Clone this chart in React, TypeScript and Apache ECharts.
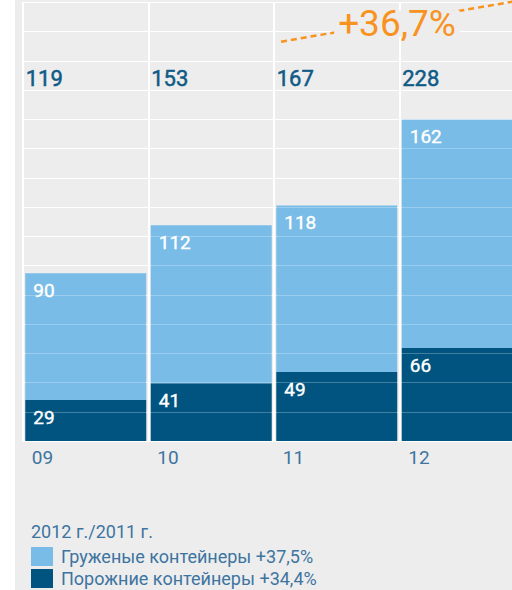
import React, { useEffect, useRef } from "react";
import * as echarts from "echarts";

const categories = ["09", "10", "11", "12"];
const loadedValues = [90, 112, 118, 162];
const emptyValues = [29, 41, 49, 66];
const seriesNames = ["Груженые контейнеры", "Порожние контейнеры"];
const seriesGrowth = ["+37,5%", "+34,4%"];
const totalGrowth = "+36,7%";
const periodLabel = "2012 г./2011 г.";
const yMax = 311;
const ySteps = 15;

const totals = categories.map((_, i) => loadedValues[i] + emptyValues[i]);

const FONT = "Roboto, 'Noto Sans', sans-serif";
const BG = "#ededed";
const LIGHT = "#79bce7";
const DARK = "#00547f";
const TOTAL_COLOR = "#0f5a86";
const AXIS_COLOR = "#3d74a0";
const ORANGE = "#f7931e";

export default function App() {
  const ref = useRef<HTMLDivElement>(null);

  useEffect(() => {
    if (!ref.current) return;
    const chart = echarts.init(ref.current, null, { renderer: "svg" });
    const step = yMax / ySteps;
    const gridOverlay = Array.from({ length: ySteps - 1 }, (_, k) => ({ yAxis: (k + 1) * step }));

    const innerLabel = {
      show: true,
      position: "insideTopLeft",
      distance: 8,
      color: "#ffffff",
      fontFamily: FONT,
      fontSize: 19,
      fontWeight: "normal",
      textBorderColor: "#ffffff",
      textBorderWidth: 0.4,
    };

    chart.setOption({
      animation: false,
      backgroundColor: BG,
      textStyle: { fontFamily: FONT },
      grid: { left: 8, right: 0, top: 2.3, bottom: 149, containLabel: false },
      title: {
        text: periodLabel,
        left: 16,
        top: 522,
        padding: 0,
        textStyle: { fontFamily: FONT, fontSize: 18, fontWeight: "normal", color: AXIS_COLOR },
      },
      legend: {
        data: seriesNames,
        orient: "vertical",
        left: 16,
        top: 547,
        padding: 0,
        itemWidth: 22,
        itemHeight: 19,
        itemGap: 3,
        icon: "rect",
        selectedMode: false,
        formatter: (name: string) => `${name} ${seriesGrowth[seriesNames.indexOf(name)]}`,
        textStyle: { fontFamily: FONT, fontSize: 18, color: AXIS_COLOR, padding: [0, 0, 0, 3] },
      },
      xAxis: [
        {
          type: "category",
          data: categories,
          position: "bottom",
          axisTick: { show: false },
          axisLine: { show: true, lineStyle: { color: "#ffffff", width: 1.5 } },
          splitLine: { show: true, lineStyle: { color: "#ffffff", width: 2 } },
          axisLabel: {
            interval: 0,
            margin: 7,
            formatter: (v: string) => `{c|${v}}`,
            rich: {
              c: { width: 108, align: "left", fontFamily: FONT, fontSize: 19, color: AXIS_COLOR },
            },
          },
        },
        {
          type: "category",
          data: categories,
          position: "top",
          offset: -95,
          axisTick: { show: false },
          axisLine: { show: false },
          splitLine: { show: false },
          axisLabel: {
            interval: 0,
            margin: 8,
            formatter: (_v: string, idx: number) => `{t|${totals[idx]}}`,
            rich: {
              t: {
                width: 120,
                align: "left",
                fontFamily: FONT,
                fontSize: 22,
                fontWeight: "normal",
                color: TOTAL_COLOR,
                textBorderColor: TOTAL_COLOR,
                textBorderWidth: 0.5,
              },
            },
          },
        },
      ],
      yAxis: {
        type: "value",
        min: 0,
        max: yMax,
        interval: step,
        axisLabel: { show: false },
        axisLine: { show: false },
        axisTick: { show: false },
        splitLine: { show: true, lineStyle: { color: "#ffffff", width: 1.2 } },
      },
      series: [
        {
          name: seriesNames[1],
          type: "bar",
          stack: "total",
          barWidth: 121,
          data: emptyValues,
          itemStyle: { color: DARK },
          label: innerLabel,
          markLine: {
            silent: true,
            symbol: "none",
            z: 5,
            label: { show: false },
            lineStyle: { color: "rgba(255,255,255,0.25)", width: 1.2, type: "solid" },
            data: gridOverlay,
          },
        },
        {
          name: seriesNames[0],
          type: "bar",
          stack: "total",
          barWidth: 121,
          data: loadedValues,
          itemStyle: { color: LIGHT },
          label: innerLabel,
        },
      ],
      graphic: [
        {
          type: "line",
          z: 100,
          shape: { x1: 266, y1: 41.7, x2: 510, y2: -0.5 },
          style: { stroke: ORANGE, lineWidth: 2.5, lineDash: [6, 4] },
        },
        {
          type: "text",
          z: 101,
          x: 382,
          y: 23.5,
          style: {
            text: totalGrowth,
            fill: ORANGE,
            fontFamily: FONT,
            fontSize: 37,
            fontWeight: "normal",
            align: "center",
            verticalAlign: "middle",
            lineHeight: 26,
            backgroundColor: BG,
            padding: [0, 4],
          },
        },
      ],
    });
    return () => chart.dispose();
  }, []);

  return (
    <div
      style={{
        position: "absolute",
        left: 0,
        top: 0,
        width: 512,
        height: 590,
        overflow: "hidden",
        background: "#ffffff",
      }}
    >
      <div ref={ref} style={{ position: "absolute", left: 15, top: 0, width: 510, height: 590 }} />
    </div>
  );
}
